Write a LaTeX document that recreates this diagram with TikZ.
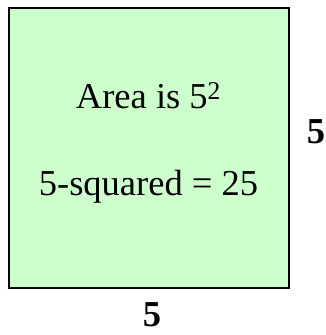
\documentclass[tikz,border=0pt]{standalone}
\usepackage{fontspec}
\setmainfont{Liberation Serif}
\definecolor{sqfill}{HTML}{CCFFCC}
\begin{document}
\begin{tikzpicture}[x=1pt,y=1pt,
  sqbox/.style={draw=black, line width=2pt, fill=sqfill},
  bodytext/.style={font=\fontsize{36.5}{40}\selectfont, anchor=base, inner sep=0pt},
  sidelabel/.style={font=\fontsize{36.5}{40}\selectfont\bfseries, anchor=center, inner sep=0pt}]
\useasboundingbox (0,0) rectangle (326,335);
\draw[sqbox] (8.5,47) rectangle (288.5,326.5);
\node[bodytext] (l1) at (148.5,226) {Area is 5\textsuperscript{2}};
\node[bodytext] (l2) at (148.5,139) {5-squared = 25};
\node[sidelabel] (rt) at (316,203) {5};
\node[sidelabel] (bt) at (152,20) {5};
\end{tikzpicture}
\end{document}
